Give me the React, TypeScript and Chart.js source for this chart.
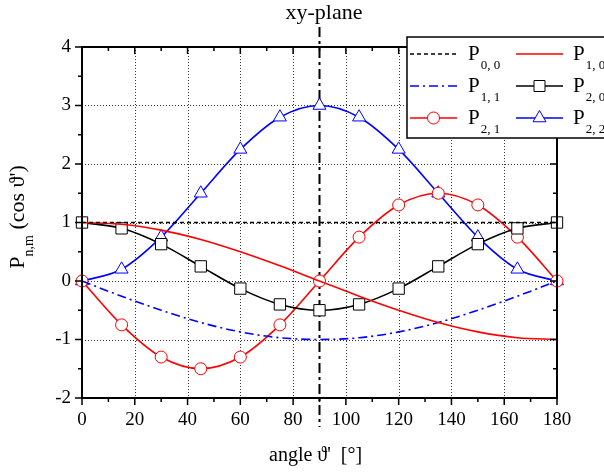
import React, { useEffect, useRef } from "react";
import { Chart, registerables } from "chart.js";
Chart.register(...registerables);

const angles = [0, 15, 30, 45, 60, 75, 90, 105, 120, 135, 150, 165, 180];
const p00 = [1, 1, 1, 1, 1, 1, 1, 1, 1, 1, 1, 1, 1];
const p10 = [1, 0.97, 0.87, 0.71, 0.5, 0.26, 0, -0.26, -0.5, -0.71, -0.87, -0.97, -1];
const p11 = [0, -0.26, -0.5, -0.71, -0.87, -0.97, -1, -0.97, -0.87, -0.71, -0.5, -0.26, 0];
const p20 = [1, 0.9, 0.63, 0.25, -0.13, -0.4, -0.5, -0.4, -0.13, 0.25, 0.63, 0.9, 1];
const p21 = [0, -0.75, -1.3, -1.5, -1.3, -0.75, 0, 0.75, 1.3, 1.5, 1.3, 0.75, 0];
const p22 = [0, 0.2, 0.75, 1.5, 2.25, 2.8, 3, 2.8, 2.25, 1.5, 0.75, 0.2, 0];
const planeAngle = 90;
const titleText = "xy-plane";
const xLabel = "angle \u03D1'  [\u00B0]";
const legendSubs = ["0, 0", "1, 0", "1, 1", "2, 0", "2, 1", "2, 2"];

const FONT = "'Liberation Serif', 'Times New Roman', serif";
const RED = "#ff0000";
const BLUE = "#0000ff";
const BLACK = "#000000";

const pts = (ys: number[]) => angles.map((x, i) => ({ x, y: ys[i] }));

type Style = { color: string; dash: number[]; marker: string | null };
const styles: Style[] = [
  { color: BLACK, dash: [4, 3], marker: null },
  { color: RED, dash: [], marker: null },
  { color: BLUE, dash: [9, 4, 2, 4], marker: null },
  { color: BLACK, dash: [], marker: "rect" },
  { color: RED, dash: [], marker: "circle" },
  { color: BLUE, dash: [], marker: "triangle" },
];

function drawMarker(ctx: CanvasRenderingContext2D, kind: string, x: number, y: number, color: string) {
  ctx.save();
  ctx.setLineDash([]);
  ctx.fillStyle = "#fff";
  ctx.strokeStyle = color;
  ctx.lineWidth = 1;
  ctx.beginPath();
  if (kind === "rect") {
    ctx.rect(x - 5.5, y - 5.5, 11, 11);
  } else if (kind === "circle") {
    ctx.arc(x, y, 6, 0, Math.PI * 2);
  } else {
    const r = 7.5;
    ctx.moveTo(x, y - r);
    ctx.lineTo(x + r * Math.cos(Math.PI / 6), y + r / 2);
    ctx.lineTo(x - r * Math.cos(Math.PI / 6), y + r / 2);
    ctx.closePath();
  }
  ctx.fill();
  ctx.stroke();
  ctx.restore();
}

const decor = {
  id: "decor",
  beforeDraw(chart: any) {
    const ctx = chart.ctx;
    ctx.save();
    ctx.fillStyle = "#fff";
    ctx.fillRect(0, 0, chart.width, chart.height);
    ctx.restore();
  },
  beforeDatasetsDraw(chart: any) {
    const ctx: CanvasRenderingContext2D = chart.ctx;
    const a = chart.chartArea;
    const xs = chart.scales.x;
    const ys = chart.scales.y;
    ctx.save();
    ctx.strokeStyle = "#333";
    ctx.lineWidth = 1;
    ctx.setLineDash([1, 2]);
    for (let v = 20; v < 180; v += 20) {
      const px = Math.round(xs.getPixelForValue(v)) + 0.5;
      ctx.beginPath();
      ctx.moveTo(px, a.top);
      ctx.lineTo(px, a.bottom);
      ctx.stroke();
    }
    for (let v = -1; v < 4; v += 1) {
      const py = Math.round(ys.getPixelForValue(v)) + 0.5;
      ctx.beginPath();
      ctx.moveTo(a.left, py);
      ctx.lineTo(a.right, py);
      ctx.stroke();
    }
    // plane marker line
    const px = xs.getPixelForValue(planeAngle);
    ctx.strokeStyle = BLACK;
    ctx.lineWidth = 2;
    ctx.setLineDash([10, 4, 3, 4]);
    ctx.beginPath();
    ctx.moveTo(px, 27);
    ctx.lineTo(px, 427);
    ctx.stroke();
    ctx.restore();
  },
  afterDraw(chart: any) {
    const ctx: CanvasRenderingContext2D = chart.ctx;
    const a = chart.chartArea;
    const xs = chart.scales.x;
    const ys = chart.scales.y;
    ctx.save();
    ctx.setLineDash([]);
    ctx.strokeStyle = BLACK;
    ctx.lineWidth = 2;
    ctx.strokeRect(a.left, a.top, a.right - a.left, a.bottom - a.top);
    ctx.lineWidth = 1.5;
    for (let v = 0; v <= 180; v += 10) {
      const px = xs.getPixelForValue(v);
      const len = v % 20 === 0 ? 7 : 4;
      ctx.beginPath();
      ctx.moveTo(px, a.bottom);
      ctx.lineTo(px, a.bottom + len);
      ctx.moveTo(px, a.top);
      ctx.lineTo(px, a.top + len);
      ctx.stroke();
    }
    for (let v = -2; v <= 4; v += 0.5) {
      const py = ys.getPixelForValue(v);
      const len = Number.isInteger(v) ? 7 : 4;
      ctx.beginPath();
      ctx.moveTo(a.left, py);
      ctx.lineTo(a.left - len, py);
      ctx.moveTo(a.right, py);
      ctx.lineTo(a.right - len, py);
      ctx.stroke();
    }
    // title
    ctx.fillStyle = BLACK;
    ctx.font = `22px ${FONT}`;
    ctx.textAlign = "center";
    ctx.textBaseline = "alphabetic";
    ctx.fillText(titleText, 324, 19);
    // x label
    ctx.font = `20px ${FONT}`;
    ctx.textAlign = "left";
    ctx.fillText(xLabel, 269, 461);
    // y label
    ctx.save();
    ctx.translate(24, 217);
    ctx.rotate(-Math.PI / 2);
    const big = `22px ${FONT}`;
    const small = `14px ${FONT}`;
    ctx.font = big;
    const wP = ctx.measureText("P").width;
    const rest = " (cos \u03D1')";
    const wR = ctx.measureText(rest).width;
    ctx.font = small;
    const wS = ctx.measureText("n,m").width;
    const total = wP + wS + wR;
    let cx = -total / 2;
    ctx.font = big;
    ctx.fillText("P", cx, 0);
    cx += wP;
    ctx.font = small;
    ctx.fillText("n,m", cx, 9);
    cx += wS;
    ctx.font = big;
    ctx.fillText(rest, cx, 0);
    ctx.restore();
    // legend
    const L = 407, T = 37, R = 606, B = 138;
    ctx.fillStyle = "#fff";
    ctx.fillRect(L, T, R - L, B - T);
    ctx.strokeStyle = BLACK;
    ctx.lineWidth = 1.5;
    ctx.strokeRect(L, T, R - L, B - T);
    const rowsY = [54, 86, 118];
    const cols = [
      { x0: 410, x1: 457, tx: 468 },
      { x0: 516, x1: 563, tx: 573 },
    ];
    styles.forEach((s, i) => {
      const row = Math.floor(i / 2);
      const col = cols[i % 2];
      const y = rowsY[row];
      ctx.save();
      ctx.strokeStyle = s.color;
      ctx.lineWidth = 1.5;
      ctx.setLineDash(s.dash);
      ctx.beginPath();
      ctx.moveTo(col.x0, y);
      ctx.lineTo(col.x1, y);
      ctx.stroke();
      ctx.restore();
      if (s.marker) drawMarker(ctx, s.marker, (col.x0 + col.x1) / 2, y, s.color);
      ctx.fillStyle = BLACK;
      ctx.textAlign = "left";
      ctx.font = `21px ${FONT}`;
      ctx.fillText("P", col.tx, y + 6);
      const w = ctx.measureText("P").width;
      ctx.font = `13px ${FONT}`;
      ctx.fillText(legendSubs[i], col.tx + w + 1, y + 15);
    });
    ctx.restore();
  },
};

export default function App() {
  const ref = useRef<HTMLCanvasElement | null>(null);
  useEffect(() => {
    if (!ref.current) return;
    const series = [p00, p10, p11, p20, p21, p22];
    const datasets = series.map((ys, i) => {
      const s = styles[i];
      return {
        data: pts(ys),
        borderColor: s.color,
        borderWidth: 1.6,
        borderDash: s.dash,
        fill: false,
        cubicInterpolationMode: "monotone" as const,
        pointStyle: (s.marker || "circle") as any,
        pointRadius: s.marker === "rect" ? 8 : s.marker === "triangle" ? 7.5 : s.marker === "circle" ? 6 : 0,
        pointBackgroundColor: "#ffffff",
        pointBorderColor: s.color,
        pointBorderWidth: 1,
        clip: false as any,
      };
    });
    const chart = new Chart(ref.current, {
      type: "line",
      data: { datasets },
      options: {
        responsive: false,
        animation: false,
        events: [],
        layout: { padding: { left: 0, top: 47, right: 47, bottom: 0 } },
        plugins: {
          legend: { display: false },
          tooltip: { enabled: false },
          title: { display: false },
        },
        scales: {
          x: {
            type: "linear",
            min: 0,
            max: 180,
            ticks: {
              stepSize: 20,
              color: BLACK,
              font: { family: FONT, size: 19 },
              padding: 3,
              maxRotation: 0,
              autoSkip: false,
            },
            grid: { display: false },
            border: { display: false },
            afterFit: (s: any) => {
              s.height = 75;
            },
          },
          y: {
            type: "linear",
            min: -2,
            max: 4,
            ticks: {
              stepSize: 1,
              color: BLACK,
              font: { family: FONT, size: 19 },
              padding: 3,
            },
            grid: { display: false },
            border: { display: false },
            afterFit: (s: any) => {
              s.width = 82;
            },
          },
        },
      },
      plugins: [decor],
    });
    return () => chart.destroy();
  }, []);
  return (
    <div style={{ position: "fixed", left: 0, top: 0, width: 604, height: 473, background: "#fff" }}>
      <canvas ref={ref} width={604} height={473} style={{ display: "block", width: 604, height: 473 }} />
    </div>
  );
}
